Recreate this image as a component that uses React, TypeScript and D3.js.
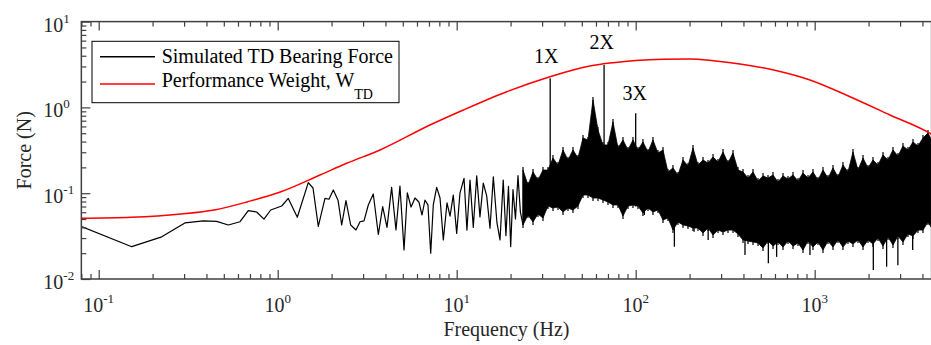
import React, { useEffect, useRef } from "react";
import * as d3 from "d3";

// simulated TD bearing force, low-frequency part read vertex by vertex (Hz, N)
const lowFreq = [
  0.0796, 0.153, 0.225, 0.303, 0.384, 0.456, 0.53, 0.616, 0.685, 0.763, 0.838,
  0.914, 1.053, 1.146, 1.287, 1.482, 1.575, 1.686, 1.837, 1.934, 2.045, 2.173,
  2.278, 2.407, 2.557, 2.737, 2.884, 3.035, 3.208, 3.42, 3.65, 3.86, 4.08, 4.33,
  4.58, 4.82, 5.08, 5.3, 5.56, 5.85, 6.15, 6.4, 6.65, 6.91, 7.16, 7.4, 7.73,
  8.07, 8.42, 8.83, 9.18, 9.57, 10.0, 10.43, 10.99, 11.41, 11.87, 12.38, 12.94,
  13.49, 14.08, 14.71, 15.35, 16.02, 16.79, 17.46, 18.2, 18.84, 19.47, 20.03,
  20.63, 21.3, 22.0, 22.7, 23.47,
];
const lowForce = [
  0.041, 0.0238, 0.031, 0.045, 0.0476, 0.047, 0.0426, 0.0465, 0.0625, 0.0604,
  0.0499, 0.0637, 0.0709, 0.087, 0.0524, 0.133, 0.115, 0.041, 0.087, 0.085,
  0.109, 0.083, 0.0426, 0.082, 0.0426, 0.0373, 0.0465, 0.0476, 0.0728, 0.098,
  0.033, 0.0696, 0.04, 0.117, 0.0373, 0.121, 0.0218, 0.101, 0.069, 0.088, 0.079,
  0.0557, 0.083, 0.073, 0.02, 0.073, 0.117, 0.088, 0.0285, 0.077, 0.054, 0.095,
  0.034, 0.1, 0.149, 0.037, 0.142, 0.04, 0.159, 0.053, 0.131, 0.093, 0.039,
  0.155, 0.045, 0.0285, 0.142, 0.032, 0.12, 0.0238, 0.11, 0.05, 0.16, 0.06,
  0.0426,
];

// dense part: upper and lower extent of the black band, read column by column (Hz, N)
const bandFreq = [
  23.47, 25.02, 26.69, 28.46, 30.35, 32.37, 34.51, 36.81, 39.26, 41.86, 44.64,
  47.61, 50.77, 54.14, 57.74, 61.57, 65.66, 70.03, 74.68, 79.64, 84.93, 90.57,
  96.59, 103.0, 109.8, 117.2, 124.9, 133.2, 142.1, 151.5, 161.6, 172.3, 183.8,
  196.0, 209.0, 222.9, 237.7, 253.5, 270.4, 288.3, 307.5, 327.9, 349.7, 372.9,
  397.7, 424.1, 452.3, 482.4, 514.4, 548.6, 585.1, 623.7, 665.2, 709.5, 756.6,
  806.8, 860.5, 917.6, 978.4, 1043, 1113, 1187, 1266, 1350, 1439, 1535, 1637,
  1746, 1862, 1986, 2117, 2258, 2408, 2568, 2738, 2920, 3114, 3321, 3542, 3777,
  4028, 4296, 4500,
];
const bandHigh = [
  0.186, 0.1246, 0.177, 0.1425, 0.186, 0.186, 0.257, 0.213, 0.319, 0.2437,
  0.319, 0.257, 0.44, 0.417, 1.22, 0.545, 0.365, 0.365, 0.676, 0.336, 0.417,
  0.319, 0.417, 0.319, 0.395, 0.302, 0.417, 0.294, 0.319, 0.177, 0.197, 0.163,
  0.244, 0.2075, 0.336, 0.213, 0.244, 0.2249, 0.264, 0.2311, 0.302, 0.2249,
  0.294, 0.186, 0.177, 0.15, 0.177, 0.1388, 0.159, 0.15, 0.163, 0.1351, 0.159,
  0.1463, 0.163, 0.1388, 0.172, 0.15, 0.177, 0.1425, 0.186, 0.15, 0.197, 0.1544,
  0.213, 0.177, 0.302, 0.186, 0.257, 0.197, 0.244, 0.213, 0.279, 0.244, 0.319,
  0.271, 0.355, 0.319, 0.395, 0.355, 0.44, 0.503, 0.417,
];
const bandLow = [
  0.0426, 0.0557, 0.0462, 0.0572, 0.0514, 0.0709, 0.0672, 0.069, 0.0604, 0.0672,
  0.0637, 0.0709, 0.0953, 0.0953, 0.0879, 0.0879, 0.0833, 0.0789, 0.0729,
  0.0729, 0.0542, 0.0709, 0.0729, 0.0709, 0.0588, 0.0672, 0.0604, 0.0637,
  0.0487, 0.0514, 0.0372, 0.0462, 0.0426, 0.0415, 0.0393, 0.0393, 0.0344,
  0.0393, 0.0326, 0.0372, 0.0353, 0.0372, 0.0372, 0.0335, 0.0285, 0.0277, 0.027,
  0.0263, 0.023, 0.0277, 0.0242, 0.027, 0.0236, 0.0277, 0.0242, 0.0263, 0.0218,
  0.0277, 0.0236, 0.027, 0.0218, 0.0277, 0.0236, 0.0285, 0.0236, 0.0277,
  0.0256, 0.0285, 0.0236, 0.0285, 0.0256, 0.0301, 0.0242, 0.0309, 0.0249,
  0.0317, 0.027, 0.0335, 0.0317, 0.0372, 0.0372, 0.0462, 0.0393,
];

// narrow lines sticking out of the band (Hz, N)
const spikeFreq = [
  33.3, 66.6, 100, 111.8, 164.5, 212, 254, 408, 551, 613, 941, 2126, 2523, 2916,
  3527,
];
const spikeHigh = [
  2.18, 3.12, 0.854, 0.08, 0.05, 0.05, 0.04, 0.035, 0.03, 0.03, 0.03, 0.03, 0.03,
  0.03, 0.035,
];
const spikeLow = [
  0.09, 0.12, 0.07, 0.0557, 0.0238, 0.0356, 0.0285, 0.019, 0.0153, 0.0181,
  0.019, 0.0127, 0.0139, 0.0145, 0.0218,
];

// performance weight W_TD
const weightFreq = [
  0.0796, 0.1515, 0.288, 0.442, 0.68, 1.043, 1.723, 2.43, 3.73, 7.09, 10.89,
  19.03, 33.2, 55.5, 75.0, 100, 142.6, 201, 271.4, 382.5, 623.7, 941, 1575, 2634,
  4464, 4500,
];
const weightValue = [
  0.051, 0.0524, 0.0572, 0.0637, 0.0796, 0.1041, 0.163, 0.223, 0.319, 0.623,
  0.933, 1.524, 2.28, 3.04, 3.32, 3.52, 3.64, 3.66, 3.5, 3.21, 2.66, 2.09, 1.332,
  0.815, 0.49, 0.485,
];

// harmonic annotations (text placed at data coordinates)
const harmonicText = ["1X", "2X", "3X"];
const harmonicFreq = [31.6, 64.6, 98.9];
const harmonicForce = [3.29, 4.79, 1.22];

const xTickPowers = [-1, 0, 1, 2, 3];
const yTickPowers = [-2, -1, 0, 1];
const legendLabels = ["Simulated TD Bearing Force", "Performance Weight, W"];

const App = () => {
  const ref = useRef<SVGSVGElement>(null);

  useEffect(() => {
    const svg = d3.select(ref.current);
    svg.selectAll("*").remove();

    const font = "Liberation Serif, Times New Roman, serif";
    const left = 81.35;
    const right = 931.6;
    const top = 21.6;
    const bottom = 279;
    const axisColor = "#404040";

    const x = d3.scaleLog().domain([0.08, 4500]).range([left, right]);
    const y = d3.scaleLog().domain([0.01, 10]).range([bottom, top]);

    svg
      .append("defs")
      .append("clipPath")
      .attr("id", "plot-clip")
      .append("rect")
      .attr("x", left)
      .attr("y", top)
      .attr("width", right - left)
      .attr("height", bottom - top);

    const plot = svg.append("g").attr("clip-path", "url(#plot-clip)");

    // dense spectrum: filled band plus a hair at every read column
    const band = bandFreq.map((f, i) => ({ f, hi: bandHigh[i], lo: bandLow[i] }));
    plot
      .append("path")
      .datum(band)
      .attr(
        "d",
        d3
          .area<any>()
          .x((d) => x(d.f))
          .y0((d) => y(d.lo))
          .y1((d) => y(d.hi))
      )
      .attr("fill", "#000")
      .attr("stroke", "#000")
      .attr("stroke-width", 0.8);

    plot
      .selectAll(".hair")
      .data(bandFreq)
      .enter()
      .append("line")
      .attr("class", "hair")
      .attr("x1", (d) => x(d))
      .attr("x2", (d) => x(d))
      .attr("y1", (d, i) => y(bandLow[i]) + 3)
      .attr("y2", (d, i) => y(bandHigh[i]) - 3)
      .attr("stroke", "#000")
      .attr("stroke-width", 1.2);

    const low = lowFreq.map((f, i) => ({ f, v: lowForce[i] }));
    plot
      .append("path")
      .datum(low)
      .attr(
        "d",
        d3
          .line<any>()
          .x((d) => x(d.f))
          .y((d) => y(d.v))
      )
      .attr("fill", "none")
      .attr("stroke", "#000")
      .attr("stroke-width", 1.2)
      .attr("stroke-linejoin", "round");

    plot
      .selectAll(".spike")
      .data(spikeFreq)
      .enter()
      .append("line")
      .attr("class", "spike")
      .attr("x1", (d) => x(d))
      .attr("x2", (d) => x(d))
      .attr("y1", (d, i) => y(spikeLow[i]))
      .attr("y2", (d, i) => y(spikeHigh[i]))
      .attr("stroke", "#000")
      .attr("stroke-width", 1.3);

    const weight = weightFreq.map((f, i) => ({ f, v: weightValue[i] }));
    plot
      .append("path")
      .datum(weight)
      .attr(
        "d",
        d3
          .line<any>()
          .x((d) => x(d.f))
          .y((d) => y(d.v))
          .curve(d3.curveMonotoneX)
      )
      .attr("fill", "none")
      .attr("stroke", "#ff0000")
      .attr("stroke-width", 1.5);

    // axes: box with inward ticks on every side
    const xMinor: number[] = [];
    for (let p = -2; p <= 3; p++) {
      for (let k = 2; k <= 9; k++) {
        const v = k * Math.pow(10, p);
        if (v >= 0.08 && v <= 4500) xMinor.push(v);
      }
    }
    const yMinor: number[] = [];
    for (let p = -2; p <= 0; p++) {
      for (let k = 2; k <= 9; k++) yMinor.push(k * Math.pow(10, p));
    }
    const xMajor = xTickPowers.map((p) => Math.pow(10, p));
    const yMajor = yTickPowers.map((p) => Math.pow(10, p));

    const addAxis = (axis: any, tx: number, ty: number) => {
      const g = svg
        .append("g")
        .attr("transform", `translate(${tx},${ty})`)
        .call(axis);
      g.select(".domain").remove();
      g.selectAll("line").attr("stroke", axisColor).attr("stroke-width", 1.2);
      g.selectAll("text").remove();
    };

    addAxis(d3.axisBottom(x).tickValues(xMinor).tickSize(-5), 0, bottom);
    addAxis(d3.axisBottom(x).tickValues(xMajor).tickSize(-9), 0, bottom);
    addAxis(d3.axisTop(x).tickValues(xMinor).tickSize(-5), 0, top);
    addAxis(d3.axisTop(x).tickValues(xMajor).tickSize(-9), 0, top);
    addAxis(d3.axisLeft(y).tickValues(yMinor).tickSize(-5), left, 0);
    addAxis(d3.axisLeft(y).tickValues(yMajor).tickSize(-9), left, 0);

    svg
      .append("rect")
      .attr("x", left)
      .attr("y", top)
      .attr("width", right - left)
      .attr("height", bottom - top)
      .attr("fill", "none")
      .attr("stroke", axisColor)
      .attr("stroke-width", 1.5);

    // tick labels 10^n
    svg
      .append("g")
      .selectAll("text")
      .data(xTickPowers)
      .enter()
      .append("text")
      .attr("x", (p) => x(Math.pow(10, p)))
      .attr("y", bottom + 32.5)
      .attr("text-anchor", "middle")
      .attr("font-family", font)
      .attr("font-size", 20)
      .attr("fill", "#262626")
      .each(function (p) {
        const t = d3.select(this);
        t.append("tspan").text("10");
        t.append("tspan").attr("dy", -9).attr("font-size", 13).text(String(p));
      });

    svg
      .append("g")
      .selectAll("text")
      .data(yTickPowers)
      .enter()
      .append("text")
      .attr("x", 43.3)
      .attr("y", (p) => y(Math.pow(10, p)) + 10)
      .attr("font-family", font)
      .attr("font-size", 20)
      .attr("fill", "#262626")
      .each(function (p) {
        const t = d3.select(this);
        t.append("tspan").text("10");
        t.append("tspan").attr("dy", -9).attr("font-size", 13).text(String(p));
      });

    // axis titles
    svg
      .append("text")
      .attr("x", (left + right) / 2)
      .attr("y", 336)
      .attr("text-anchor", "middle")
      .attr("font-family", font)
      .attr("font-size", 20)
      .attr("fill", "#262626")
      .text("Frequency (Hz)");

    svg
      .append("text")
      .attr("transform", `translate(31,${(top + bottom) / 2}) rotate(-90)`)
      .attr("text-anchor", "middle")
      .attr("font-family", font)
      .attr("font-size", 20)
      .attr("fill", "#262626")
      .text("Force (N)");

    // harmonic labels
    svg
      .append("g")
      .selectAll("text")
      .data(harmonicText)
      .enter()
      .append("text")
      .attr("x", (d, i) => x(harmonicFreq[i]))
      .attr("y", (d, i) => y(harmonicForce[i]))
      .attr("text-anchor", "middle")
      .attr("font-family", font)
      .attr("font-size", 20)
      .attr("fill", "#000")
      .text((d) => d);

    // legend
    const legend = svg.append("g");
    legend
      .append("rect")
      .attr("x", 92)
      .attr("y", 41.3)
      .attr("width", 307)
      .attr("height", 61.4)
      .attr("fill", "#fff")
      .attr("stroke", "#000")
      .attr("stroke-width", 1);

    const rowY = [56.7, 84];
    const rowBase = [63.3, 87];
    const rowColor = ["#000", "#ff0000"];
    legendLabels.forEach((label, i) => {
      legend
        .append("line")
        .attr("x1", 100)
        .attr("x2", 155)
        .attr("y1", rowY[i])
        .attr("y2", rowY[i])
        .attr("stroke", rowColor[i])
        .attr("stroke-width", 1.5);
      const t = legend
        .append("text")
        .attr("x", 161.7)
        .attr("y", rowBase[i])
        .attr("font-family", font)
        .attr("font-size", 20)
        .attr("fill", "#000");
      t.append("tspan").text(label);
      if (i === 1) {
        t.append("tspan").attr("dy", 12).attr("font-size", 14).text("TD");
      }
    });
  }, []);

  return (
    <svg
      ref={ref}
      width={931}
      height={345}
      style={{ position: "absolute", left: 0, top: 0, background: "#fff" }}
    />
  );
};

export default App;
